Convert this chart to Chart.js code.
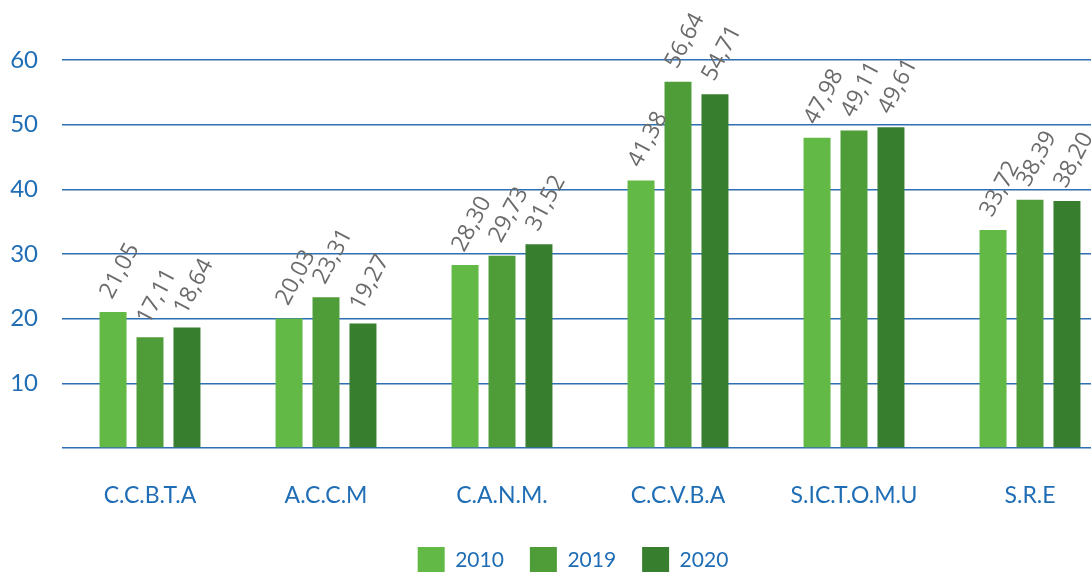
<!DOCTYPE html>
<html>
<head>
<meta charset="utf-8">
<script src="https://cdn.jsdelivr.net/npm/chart.js@4"></script>
<style>
  html, body { margin: 0; padding: 0; background: #fff; overflow: hidden; }
  #wrap { width: 1146px; height: 584px; position: relative; }
</style>
</head>
<body>
<div id="wrap"><canvas id="chart"></canvas></div>
<script>
const categories = ["C.C.B.T.A", "A.C.C.M", "C.A.N.M.", "C.C.V.B.A", "S.IC.T.O.M.U", "S.R.E"];
const years = ["2010", "2019", "2020"];
const values2010 = [21.05, 20.03, 28.30, 41.38, 47.98, 33.72];
const values2019 = [17.11, 23.31, 29.73, 56.64, 49.11, 38.39];
const values2020 = [18.64, 19.27, 31.52, 54.71, 49.61, 38.20];
const yTicks = [10, 20, 30, 40, 50, 60];

const colors = ["#62b946", "#4f9d39", "#377f2e"];
const blue = "#1f6db5";

// rotated value labels above each bar
const valueLabels = {
  id: "valueLabels",
  afterDatasetsDraw(chart) {
    const ctx = chart.ctx;
    ctx.save();
    ctx.fillStyle = "#6b6b6b";
    ctx.font = "23px 'Open Sans'";
    ctx.textAlign = "left";
    ctx.textBaseline = "alphabetic";
    chart.data.datasets.forEach((ds, i) => {
      chart.getDatasetMeta(i).data.forEach((bar, j) => {
        const txt = ds.data[j].toFixed(2).replace(".", ",");
        ctx.save();
        ctx.translate(bar.x - 1, bar.y - 12);
        ctx.rotate(-62 * Math.PI / 180);
        ctx.fillText(txt, 0, 0);
        ctx.restore();
      });
    });
    ctx.restore();
  }
};

new Chart(document.getElementById("chart"), {
  type: "bar",
  data: {
    labels: categories,
    datasets: [
      { label: years[0], data: values2010, backgroundColor: colors[0] },
      { label: years[1], data: values2019, backgroundColor: colors[1] },
      { label: years[2], data: values2020, backgroundColor: colors[2] }
    ]
  },
  options: {
    responsive: true,
    maintainAspectRatio: false,
    animation: false,
    datasets: {
      bar: { categoryPercentage: 0.63, barPercentage: 0.73 }
    },
    layout: { padding: { top: 60, right: 0, left: 0, bottom: 0 } },
    scales: {
      x: {
        grid: { display: false },
        border: { display: false },
        ticks: { color: blue, font: { family: "Lato", size: 23 }, padding: 26 },
        afterFit(scale) { scale.height = 73; }
      },
      y: {
        min: 0,
        max: 60,
        afterBuildTicks(axis) { axis.ticks = [0].concat(yTicks).map(v => ({ value: v })); },
        afterFit(scale) { scale.width = 62; },
        grid: { color: "#2f6fb3", lineWidth: 1.5, drawTicks: false },
        border: { display: false },
        ticks: {
          color: blue,
          font: { family: "Lato", size: 24 },
          padding: 24,
          callback: v => (v === 0 ? "" : v)
        }
      },
      // empty right axis, only to leave room past the cropped edge
      yRight: {
        position: "right",
        grid: { display: false },
        border: { display: false },
        ticks: { display: false },
        afterFit(scale) { scale.width = 28; }
      }
    },
    plugins: {
      legend: {
        position: "bottom",
        labels: {
          color: blue,
          font: { family: "Lato", size: 21 },
          boxWidth: 27,
          boxHeight: 27,
          padding: 26
        }
      },
      tooltip: { enabled: false }
    }
  },
  plugins: [valueLabels]
});
</script>
</body>
</html>
